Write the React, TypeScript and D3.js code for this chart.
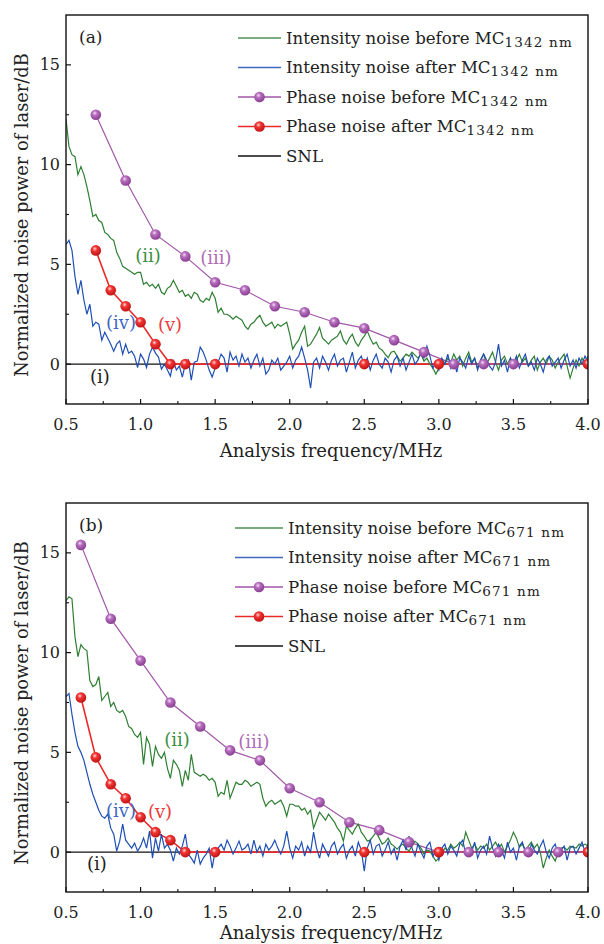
import * as d3 from "d3";

// noise traces are sampled from 0.50 MHz every 0.02 MHz (10 values per row)
const freqStart = 0.5;
const freqStep = 0.02;

const intensityBeforeA = [
  12.3, 10.9, 10.5, 10.4, 9.5, 9.9, 9.5, 8.9, 8.2, 7.4,
  7.5, 7.2, 7.1, 6.6, 6.5, 6.3, 6.2, 5.6, 5.3, 4.9,
  4.8, 4.7, 4.6, 4.5, 4.6, 4.6, 4.0, 4.1, 3.9, 4.0,
  3.8, 4.0, 3.6, 3.5, 3.8, 3.9, 4.2, 3.9, 3.6, 3.7,
  3.4, 3.5, 3.3, 3.6, 3.5, 3.2, 3.1, 3.3, 3.2, 3.6,
  3.3, 2.6, 2.8, 2.5, 2.5, 2.4, 2.25, 2.4, 2.3, 2.2,
  1.9, 1.75, 2.0, 2.1, 2.3, 2.45, 2.1, 1.9, 2.0, 2.1,
  1.8, 2.0, 1.9, 2.0, 2.1, 1.5, 0.75, 1.0, 1.2, 1.6,
  1.9, 0.9, 1.0, 1.26, 1.5, 1.83, 1.3, 1.16, 1.0, 1.2,
  1.3, 1.4, 1.66, 1.2, 1.0, 1.3, 1.5, 1.1, 0.9, 1.2,
  1.4, 1.66, 1.3, 1.0, 1.1, 0.8, 0.7, 0.5, 0.32, 0.6,
  0.65, 0.4, 0.15, 0.3, 0.5, 0.4, 0.6, 0.45, 0.3, 0.5,
  0.15, 0.3, 0.0, -0.2, -0.5, -0.2, 0.1, 0.0, 0.3, 0.1,
  0.5, 0.2, 0.4, -0.1, 0.3, 0.6, 0.1, 0.3, -0.2, 0.2,
  0.5, 0.0, 0.3, 0.6, 0.1, -0.3, 0.2, 0.4, 0.0, 0.3,
  -0.2, 0.2, 0.5, 0.1, 0.3, -0.1, 0.2, 0.4, -0.3, 0.1,
  0.3, 0.0, 0.4, 0.2, -0.2, 0.1, 0.3, 0.5, -0.1, -0.7,
  -0.2, 0.2, -0.1, 0.3, 0.0, 0.4,
];

const intensityAfterA = [
  6.0, 6.2, 5.7, 4.4, 3.5, 4.2, 3.2, 2.5, 3.0, 1.9,
  2.1, 2.0, 1.2, 1.6, 1.3, 1.0, 0.65, 1.0, 1.16, 0.5,
  1.0, 0.55, 0.65, 0.4, -0.17, 0.5, 0.25, -0.17, 0.5, 0.85,
  0.55, 0.35, -0.25, 0.0, -0.3, -0.6, 0.15, -0.3, -0.1, -0.65,
  0.0, 0.2, -0.8, 0.1, 0.15, 0.85, 0.6, 0.2, -0.3, -0.65,
  -0.2, 0.1, 0.5, 0.3, -0.4, 0.6, 0.2, 0.4, -0.1, 0.5,
  0.1, 0.3, -0.2, 0.2, 0.5, -0.1, 0.3, -0.5, -0.3, 0.2,
  0.0, 0.3, -0.3, -0.1, 0.1, 0.4, -0.2, 0.2, 0.4, 0.85,
  0.3, -0.3, -1.2, 0.1, 0.3, -0.2, 0.4, 0.1, -0.3, 0.2,
  0.5, -0.1, 0.2, 0.3, -0.4, 0.1, 0.6, -0.2, 0.2, 0.4,
  -0.1, 0.3, -0.3, 0.2, 0.5, 0.0, -0.2, 0.3, 0.1, -0.4,
  0.2, 0.4, -0.1, 0.3, -0.3, 0.1, 0.5, 0.0, 0.2, 0.6,
  0.3, 0.9, 0.4, -0.2, 0.1, -0.3, 0.3, 0.0, 0.5, -0.2,
  0.2, -0.4, 0.3, 0.1, -0.2, 0.4, 0.0, 0.3, -0.3, 0.2,
  0.5, 0.2, -0.1, -0.3, 0.1, 1.0, -0.1, 0.2, -0.4, 0.3,
  0.0, 0.4, -0.2, 0.2, 0.5, -0.1, 0.1, -0.3, 0.3, 0.0,
  -0.4, 0.2, 0.4, -0.1, 0.1, 0.3, -0.2, 0.2, 0.5, -0.1,
  0.2, -0.2, 0.3, 0.0, 0.4, 0.1,
];

const intensityBeforeB = [
  12.6, 12.8, 12.7, 10.8, 9.8, 10.4, 10.2, 10.1, 8.6, 8.3,
  8.4, 8.8, 7.6, 7.8, 8.0, 7.3, 7.5, 7.1, 7.0, 7.1,
  6.8, 6.3, 6.2, 5.9, 5.75, 6.0, 4.4, 5.75, 5.4, 4.3,
  5.3, 4.9, 4.7, 5.0, 4.2, 3.7, 4.6, 4.4, 4.1, 3.3,
  4.1, 3.6, 4.9, 4.0, 3.9, 3.8, 3.9, 3.8, 3.6, 3.7,
  3.5, 2.8, 3.0, 2.9, 3.6, 2.7, 3.1, 3.5, 3.4, 3.4,
  3.6, 3.5, 3.3, 3.4, 3.5, 3.4, 2.7, 2.3, 2.5, 2.6,
  2.4, 2.5, 2.6, 2.3, 1.8, 2.4, 2.4, 2.3, 2.3, 2.1,
  2.2, 1.9, 2.1, 1.2, 1.6, 2.0, 1.8, 1.6, 1.9, 1.7,
  1.5, 1.2, 1.0, 0.55, 1.3, 1.1, 0.9, 1.2, 1.4, 1.0,
  0.8, 0.55, 0.6, 0.8, 1.0, 0.7, 0.4, 0.5, 0.7, 0.4,
  0.3, 0.15, 0.3, 0.4, 0.2, 0.05, 0.3, 0.55, 0.4, 0.2,
  -0.1, 0.1, 0.05, -0.2, -0.45, -0.3, -0.1, 0.2, 0.1, 0.4,
  0.2, 0.3, 0.5, 0.3, 1.0, 0.6, 0.2, 0.4, 0.1, 0.3,
  0.2, 0.4, 0.1, 0.3, 0.5, 0.2, 0.4, 0.0, 0.3, 0.6,
  1.0, 0.7, 0.25, 0.4, 0.1, 0.3, 0.5, 0.2, 0.4, 0.0,
  -0.8, -0.3, 0.1, -0.2, -0.45, 0.0, 0.2, 0.25, 0.1, 0.3,
  0.25, 0.2, 0.4, 0.3, 0.4, 0.3,
];

const intensityAfterB = [
  7.8, 7.95, 6.9, 6.0, 5.3, 5.0, 4.6, 4.0, 3.4, 2.9,
  2.5, 2.1, 1.8, 1.7, 1.9, 1.2, 0.9, 0.05, 0.55, 1.4,
  0.6, 0.4, 0.2, 0.45, 0.05, 0.3, 0.7, 0.2, 1.05, -0.3,
  0.7, 0.05, 0.9, 0.2, 0.4, 0.1, -0.45, 0.2, -0.1, 0.3,
  0.9, -0.1, -0.3, -0.55, 0.1, -0.6, -0.3, -0.1, 0.2, -0.8,
  0.05, 0.2, 0.4, 0.1, 0.6, 0.3, -0.1, 0.2, 0.55, 0.1,
  0.2, 0.4, -0.1, 0.6, 0.0, 0.3, -0.2, 0.4, 0.1, 0.3,
  0.6, 0.2, -0.1, 0.3, 1.05, 0.2, -0.3, 0.3, 0.1, 0.5,
  -0.2, 0.3, 0.0, 1.0, 0.2, -0.3, 0.4, 0.1, -0.2, 0.3,
  0.5, -0.1, 0.2, 0.4, -0.3, 0.1, 0.3, -0.2, 0.5, 0.1,
  -0.95, 0.2, 0.6, -0.1, 0.3, 0.4, -0.2, 0.1, 0.5, -0.1,
  0.2, -0.4, 0.3, 0.6, 0.1, 0.8, 0.2, -0.2, 0.4, 0.0,
  -0.3, 0.3, 0.5, -0.2, 0.1, -0.4, 0.2, 0.4, -0.1, 0.3,
  0.1, -0.2, 0.4, 0.6, -0.1, 0.2, 0.0, 0.5, -0.3, 0.1,
  0.3, -0.1, 0.8, 0.2, -0.2, 0.4, 0.1, -0.3, 0.5, 0.0,
  0.2, -0.4, 0.3, 0.5, 0.0, -0.2, 0.4, 0.1, -0.1, 0.3,
  0.6, 0.0, -0.3, 0.2, 0.4, -0.1, 0.1, 0.3, -0.4, 0.2,
  0.3, -0.1, 0.2, 0.5, 0.0, 0.4,
];

const phaseBeforeFreqA = [0.7, 0.9, 1.1, 1.3, 1.5, 1.7, 1.9, 2.1, 2.3, 2.5, 2.7, 2.9, 3.1, 3.3, 3.5, 4.0];
const phaseBeforeA = [12.5, 9.2, 6.5, 5.4, 4.1, 3.7, 2.9, 2.6, 2.1, 1.8, 1.2, 0.6, 0, 0, 0, 0];
const phaseAfterFreqA = [0.7, 0.8, 0.9, 1.0, 1.1, 1.2, 1.3, 1.5, 2.5, 3.0, 4.0];
const phaseAfterA = [5.7, 3.7, 2.9, 2.1, 1.0, 0, 0, 0, 0, 0, 0];

const phaseBeforeFreqB = [0.6, 0.8, 1.0, 1.2, 1.4, 1.6, 1.8, 2.0, 2.2, 2.4, 2.6, 2.8, 3.0, 3.2, 3.4, 3.6, 3.8, 4.0];
const phaseBeforeB = [15.4, 11.7, 9.6, 7.5, 6.3, 5.1, 4.6, 3.2, 2.5, 1.5, 1.1, 0.5, 0, 0, 0, 0, 0, 0];
const phaseAfterFreqB = [0.6, 0.7, 0.8, 0.9, 1.0, 1.1, 1.2, 1.3, 1.5, 2.5, 3.0, 4.0];
const phaseAfterB = [7.75, 4.75, 3.4, 2.7, 1.75, 1.0, 0.6, 0, 0, 0, 0, 0];

const xTickValues = [0.5, 1.0, 1.5, 2.0, 2.5, 3.0, 3.5, 4.0];
const xMinorTicks = [0.75, 1.25, 1.75, 2.25, 2.75, 3.25, 3.75];
const yTickValues = [0, 5, 10, 15];
const yMinorTicks = [2.5, 7.5, 12.5];

const legendLabels = [
  "Intensity noise before MC",
  "Intensity noise after MC",
  "Phase noise before MC",
  "Phase noise after MC",
  "SNL",
];

const GREEN = "#2f7f33";
const BLUE = "#1f4fb5";
const PURPLE = "#a157a8";
const RED = "#ea2a2a";
const FONT = "'DejaVu Serif', 'Liberation Serif', serif";

type Pt = { f: number; v: number };

const toTrace = (vals: number[]): Pt[] =>
  vals.map((v, i) => ({ f: freqStart + i * freqStep, v }));
const toPoints = (fs: number[], vs: number[]): Pt[] =>
  fs.map((f, i) => ({ f, v: vs[i] }));

interface PanelProps {
  id: string;
  top: number;
  label: string;
  sub: string;
  greenTrace: number[];
  blueTrace: number[];
  pbF: number[];
  pbV: number[];
  paF: number[];
  paV: number[];
  legendX: number;
  legendTextX: number;
  legendY: number;
  xLabelGap: number;
  ann: { t: string; x: number; y: number; c: string }[];
}

const Panel = (p: PanelProps) => {
  const left = 66;
  const right = 588;
  const h = 389;
  const x = d3.scaleLinear().domain([0.5, 4.0]).range([left, right]);
  const y = d3.scaleLinear().domain([-2, 17.5]).range([p.top + h, p.top]);
  const line = d3
    .line<Pt>()
    .x((d) => x(d.f))
    .y((d) => y(d.v));

  const pb = toPoints(p.pbF, p.pbV);
  const pa = toPoints(p.paF, p.paV);
  const bottom = p.top + h;
  const clip = `clip-${p.id}`;

  return (
    <g fontFamily={FONT}>
      <defs>
        <clipPath id={clip}>
          <rect x={left} y={p.top} width={right - left} height={h} />
        </clipPath>
      </defs>
      <g clipPath={`url(#${clip})`}>
        <line x1={x(0.5)} x2={x(4.0)} y1={y(0)} y2={y(0)} stroke="#111" strokeWidth={1.3} />
        <path d={line(pa) ?? ""} fill="none" stroke={RED} strokeWidth={1.6} />
        <path d={line(pb) ?? ""} fill="none" stroke={PURPLE} strokeWidth={1.2} />
        <path d={line(toTrace(p.greenTrace)) ?? ""} fill="none" stroke={GREEN} strokeWidth={1.2} />
        <path d={line(toTrace(p.blueTrace)) ?? ""} fill="none" stroke={BLUE} strokeWidth={1.2} />
        {pb.map((d, i) => (
          <circle key={"pb" + i} cx={x(d.f)} cy={y(d.v)} r={5.3} fill="url(#ballPurple)" />
        ))}
        {pa.map((d, i) => (
          <circle key={"pa" + i} cx={x(d.f)} cy={y(d.v)} r={5.3} fill="url(#ballRed)" />
        ))}
      </g>
      <rect x={left} y={p.top} width={right - left} height={h} fill="none" stroke="#111" strokeWidth={1.4} />
      {xTickValues.map((t) => (
        <g key={"xt" + t}>
          <line x1={x(t)} x2={x(t)} y1={bottom} y2={bottom - 5} stroke="#111" strokeWidth={1.2} />
          <text x={x(t)} y={bottom + 26} textAnchor="middle" fontSize={16} fill="#222">
            {t.toFixed(1)}
          </text>
        </g>
      ))}
      {xMinorTicks.map((t) => (
        <line key={"xm" + t} x1={x(t)} x2={x(t)} y1={bottom} y2={bottom - 3} stroke="#111" strokeWidth={1.1} />
      ))}
      {yTickValues.map((t) => (
        <g key={"yt" + t}>
          <line x1={left} x2={left + 5} y1={y(t)} y2={y(t)} stroke="#111" strokeWidth={1.2} />
          <text x={left - 6} y={y(t) + 5.5} textAnchor="end" fontSize={16} fill="#222">
            {t}
          </text>
        </g>
      ))}
      {yMinorTicks.map((t) => (
        <line key={"ym" + t} x1={left} x2={left + 3} y1={y(t)} y2={y(t)} stroke="#111" strokeWidth={1.1} />
      ))}
      <text x={331} y={bottom + p.xLabelGap} textAnchor="middle" fontSize={18} fill="#222">
        Analysis frequency/MHz
      </text>
      <text
        transform={`translate(28, ${p.top + 200}) rotate(-90)`}
        textAnchor="middle"
        fontSize={17.8}
        fill="#222"
      >
        Normalized noise power of laser/dB
      </text>
      <text x={79} y={p.top + 28} fontSize={17} fill="#222">
        {p.label}
      </text>
      {legendLabels.map((lab, i) => {
        const ly = p.legendY + i * 29.5;
        const col = [GREEN, BLUE, PURPLE, RED, "#111"][i];
        const mid = (p.legendX + p.legendTextX - 5) / 2;
        return (
          <g key={"lg" + i}>
            <line x1={p.legendX} x2={p.legendTextX - 5} y1={ly} y2={ly} stroke={col} strokeWidth={1.3} opacity={i < 2 ? 0.85 : 1} />
            {i === 2 && <circle cx={mid} cy={ly} r={5.3} fill="url(#ballPurple)" />}
            {i === 3 && <circle cx={mid} cy={ly} r={5.3} fill="url(#ballRed)" />}
            <text x={p.legendTextX} y={ly + 5.5} fontSize={16.6} fill="#222">
              {lab}
              {i < 4 && (
                <tspan fontSize={13.5} dy={3} letterSpacing={1.2}>
                  {p.sub}
                </tspan>
              )}
            </text>
          </g>
        );
      })}
      {p.ann.map((a) => (
        <text key={a.t} x={a.x} y={a.y} fontSize={18} fill={a.c} textAnchor="middle">
          {a.t}
        </text>
      ))}
    </g>
  );
};

const App = () => (
  <svg
    width={604}
    height={944}
    style={{ position: "absolute", left: 0, top: 0, display: "block" }}
  >
    <defs>
      <radialGradient id="ballPurple" cx="40%" cy="35%" r="65%">
        <stop offset="0%" stopColor="#f3dcf5" />
        <stop offset="35%" stopColor="#b66dbd" />
        <stop offset="100%" stopColor="#8a3f92" />
      </radialGradient>
      <radialGradient id="ballRed" cx="40%" cy="35%" r="65%">
        <stop offset="0%" stopColor="#ffd6d6" />
        <stop offset="35%" stopColor="#f23434" />
        <stop offset="100%" stopColor="#c01414" />
      </radialGradient>
    </defs>
    <Panel
      id="a"
      top={15}
      label="(a)"
      sub="1342 nm"
      greenTrace={intensityBeforeA}
      blueTrace={intensityAfterA}
      pbF={phaseBeforeFreqA}
      pbV={phaseBeforeA}
      paF={phaseAfterFreqA}
      paV={phaseAfterA}
      legendX={238}
      legendTextX={286}
      legendY={38}
      xLabelGap={53}
      ann={[
        { t: "(ii)", x: 148, y: 262, c: "#3d8f41" },
        { t: "(iii)", x: 216, y: 264, c: "#b06cb6" },
        { t: "(iv)", x: 121, y: 329, c: "#3f68c2" },
        { t: "(v)", x: 170, y: 331, c: "#ee3b3b" },
        { t: "(i)", x: 100, y: 383, c: "#222" },
      ]}
    />
    <Panel
      id="b"
      top={503}
      label="(b)"
      sub="671 nm"
      greenTrace={intensityBeforeB}
      blueTrace={intensityAfterB}
      pbF={phaseBeforeFreqB}
      pbV={phaseBeforeB}
      paF={phaseAfterFreqB}
      paV={phaseAfterB}
      legendX={235}
      legendTextX={288}
      legendY={528}
      xLabelGap={47}
      ann={[
        { t: "(ii)", x: 177, y: 746, c: "#3d8f41" },
        { t: "(iii)", x: 254, y: 748, c: "#b06cb6" },
        { t: "(iv)", x: 121, y: 817, c: "#3f68c2" },
        { t: "(v)", x: 160, y: 818, c: "#ee3b3b" },
        { t: "(i)", x: 97, y: 870, c: "#222" },
      ]}
    />
  </svg>
);

export default App;
